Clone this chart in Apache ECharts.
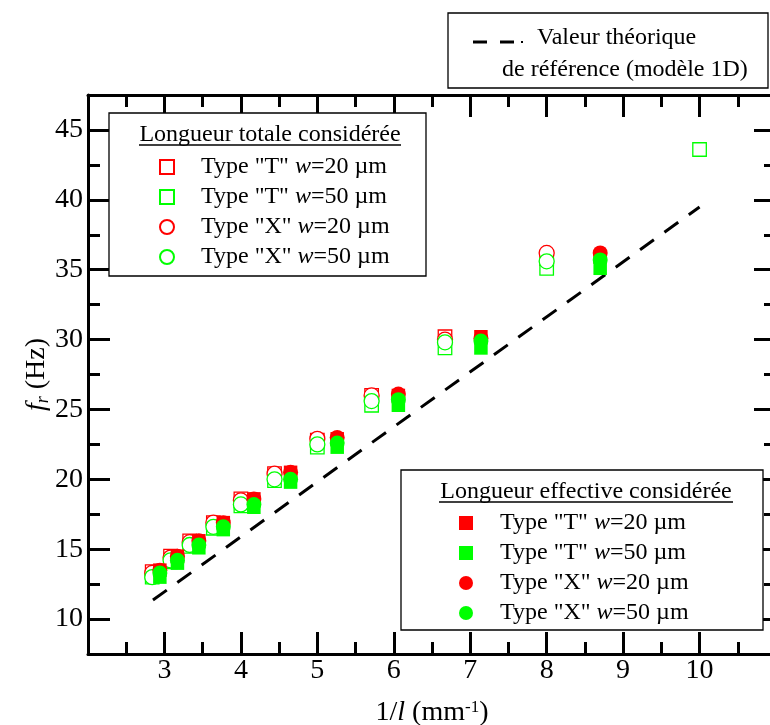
<!DOCTYPE html>
<html><head><meta charset="utf-8">
<script src="https://cdn.jsdelivr.net/npm/echarts@6/dist/echarts.min.js"></script>
<style>html,body{margin:0;padding:0;background:#fff}#c{width:770px;height:725px}</style>
</head><body><div id="c"></div>
<script>
// ---- data ----
const legendLabels = ['Type "T" w=20 µm', 'Type "T" w=50 µm', 'Type "X" w=20 µm', 'Type "X" w=50 µm'];
const totalTitle = 'Longueur totale considérée';
const effTitle = 'Longueur effective considérée';
const refLabel1 = 'Valeur théorique';
const refLabel2 = 'de référence (modèle 1D)';

// 1/l for total length (hollow markers)
const xTotal   = [2.84, 3.08, 3.33, 3.64, 4.00, 4.44, 5.00, 5.71, 6.67, 8.00];
const xTotal50 = [2.84, 3.08, 3.33, 3.64, 4.00, 4.44, 5.00, 5.71, 6.67, 8.00, 10.0];
// 1/l for effective length (filled markers)
const xEff     = [2.94, 3.17, 3.45, 3.77, 4.17, 4.65, 5.26, 6.06, 7.14, 8.70];

const totT20 = [13.4, 14.5, 15.6, 16.9, 18.6, 20.4, 22.8, 26.0, 30.2, 35.8];
const totT50 = [13.0, 14.1, 15.2, 16.5, 18.1, 19.9, 22.3, 25.3, 29.4, 35.1, 43.6];
const totX20 = [13.3, 14.4, 15.5, 16.9, 18.5, 20.4, 22.9, 26.0, 30.0, 36.2];
const totX50 = [13.0, 14.2, 15.3, 16.6, 18.2, 20.0, 22.5, 25.6, 29.8, 35.6];

const effT20 = [13.5, 14.5, 15.6, 16.9, 18.6, 20.5, 22.9, 26.0, 30.2, 35.9];
const effT50 = [13.0, 14.0, 15.1, 16.4, 18.0, 19.8, 22.3, 25.3, 29.4, 35.1];
const effX20 = [13.5, 14.5, 15.6, 16.9, 18.6, 20.5, 23.0, 26.1, 30.1, 36.2];
const effX50 = [13.3, 14.2, 15.3, 16.6, 18.2, 20.0, 22.6, 25.7, 29.9, 35.7];

const refX = [2.85, 10.0];
const refY = [11.36, 39.49];

const yMajor = [10, 15, 20, 25, 30, 35, 40, 45];
const yMinor = [12.5, 17.5, 22.5, 27.5, 32.5, 37.5, 42.5];

// ---- helpers ----
const FONT = '"Liberation Serif", "Times New Roman", serif';
const RED = '#ff0000', GREEN = '#00ff00';
const pts = (xs, ys) => ys.map((y, i) => [xs[i], y]);
const rich = {
  i: {fontFamily: FONT, fontSize: 24, fontStyle: 'italic', color: '#000', lineHeight: 24}
};
const labelFmt = name => {
  const idx = +name.split('#')[1];
  return legendLabels[idx].replace('w=', '{i|w}=');
};

const totNames = legendLabels.map((l, i) => 'Totale #' + i);
const effNames = legendLabels.map((l, i) => 'Effective #' + i);

function hollow(name, xs, ys, sym, col, size) {
  return {type: 'scatter', name, data: pts(xs, ys), symbol: sym, symbolSize: size,
    itemStyle: {color: '#fff', borderColor: col, borderWidth: 1.3, opacity: 1}, z: 3};
}
function filled(name, xs, ys, sym, col, size) {
  return {type: 'scatter', name, data: pts(xs, ys), symbol: sym, symbolSize: size,
    itemStyle: {color: col, borderWidth: 0, opacity: 1}, z: 4};
}

const tickStyle = {color: '#000', width: 3};
function xAx(pos, labels) {
  return {
    type: 'value', min: 2, max: 11, interval: 1, position: pos,
    axisLine: {show: true, onZero: false, lineStyle: {color: '#000', width: 3}},
    axisTick: {show: true, inside: true, length: 22, lineStyle: tickStyle},
    minorTick: {show: true, splitNumber: 2, length: 12, lineStyle: tickStyle},
    axisLabel: {show: labels, showMinLabel: false, showMaxLabel: false, margin: 3,
      fontFamily: FONT, fontSize: 28, color: '#000'},
    splitLine: {show: false}
  };
}
function yAx(pos, major, labels) {
  return {
    type: 'value', min: 7.5, max: 47.5, position: pos,
    axisLine: {show: major, onZero: false, lineStyle: {color: '#000', width: 3}},
    axisTick: {show: true, inside: true, length: major ? 22 : 12,
      customValues: major ? yMajor : yMinor, lineStyle: tickStyle},
    axisLabel: labels ? {show: true, customValues: yMajor, margin: 5,
      fontFamily: FONT, fontSize: 28, color: '#000'} : {show: false},
    splitLine: {show: false}
  };
}

const xBottom = xAx('bottom', true);
xBottom.name = '1/{i|l} (mm{sup|-1})';
xBottom.nameLocation = 'middle';
xBottom.nameGap = 45;
xBottom.nameMoveOverlap = false;
xBottom.nameTextStyle = {fontFamily: FONT, fontSize: 28, color: '#000',
  rich: {i: {fontFamily: FONT, fontSize: 28, fontStyle: 'italic', color: '#000'},
         sup: {fontFamily: FONT, fontSize: 17, color: '#000', verticalAlign: 'top', padding: [0, 0, 10, 0]}}};

const yLeft = yAx('left', true, true);
yLeft.name = '{f|f}{sub|r} (Hz)';
yLeft.nameLocation = 'middle';
yLeft.nameGap = 36;
yLeft.nameRotate = 90;
yLeft.nameMoveOverlap = false;
yLeft.nameTextStyle = {fontFamily: FONT, fontSize: 28, color: '#000',
  rich: {f: {fontFamily: FONT, fontSize: 28, fontStyle: 'italic', color: '#000'},
         sub: {fontFamily: FONT, fontSize: 18, fontStyle: 'italic', color: '#000', verticalAlign: 'bottom', padding: [12, 0, 0, 0]}}};

const legendCommon = {
  orient: 'vertical', itemWidth: 14, itemHeight: 14, itemGap: 6, padding: 0,
  selectedMode: false, formatter: labelFmt, z: 6,
  textStyle: {fontFamily: FONT, fontSize: 24, color: '#000', lineHeight: 24,
    padding: [0, 0, 0, 22], rich}
};

const chart = echarts.init(document.getElementById('c'), null, {renderer: 'canvas'});
chart.setOption({
  animation: false,
  backgroundColor: '#fff',
  grid: {left: 88, top: 95, right: -6, bottom: 71, containLabel: false, outerBoundsMode: 'none'},
  xAxis: [xBottom, xAx('top', false)],
  yAxis: [yLeft, yAx('left', false, false), yAx('right', true, false), yAx('right', false, false)],
  legend: [
    Object.assign({}, legendCommon, {data: totNames, left: 159, top: 155}),
    Object.assign({}, legendCommon, {data: effNames, left: 459, top: 511})
  ],
  graphic: [
    {type: 'rect', z: 5, shape: {x: 109, y: 113, width: 317, height: 163},
      style: {fill: '#fff', stroke: '#000', lineWidth: 1.3}},
    {type: 'text', z: 6, x: 270, y: 135,
      style: {text: totalTitle, fontFamily: FONT, fontSize: 24, fill: '#000', align: 'center', verticalAlign: 'middle'}},
    {type: 'line', z: 6, shape: {x1: 139, y1: 145, x2: 401, y2: 145}, style: {stroke: '#000', lineWidth: 1.5}},

    {type: 'rect', z: 5, shape: {x: 401, y: 470, width: 362, height: 160},
      style: {fill: '#fff', stroke: '#000', lineWidth: 1.3}},
    {type: 'text', z: 6, x: 586, y: 492,
      style: {text: effTitle, fontFamily: FONT, fontSize: 24, fill: '#000', align: 'center', verticalAlign: 'middle'}},
    {type: 'line', z: 6, shape: {x1: 439, y1: 502, x2: 733, y2: 502}, style: {stroke: '#000', lineWidth: 1.5}},

    {type: 'rect', z: 5, shape: {x: 448, y: 13, width: 320, height: 75},
      style: {fill: '#fff', stroke: '#000', lineWidth: 1.3}},
    {type: 'line', z: 6, shape: {x1: 473, y1: 42, x2: 487, y2: 42}, style: {stroke: '#000', lineWidth: 3}},
    {type: 'line', z: 6, shape: {x1: 500, y1: 42, x2: 514, y2: 42}, style: {stroke: '#000', lineWidth: 3}},
    {type: 'line', z: 6, shape: {x1: 521, y1: 42, x2: 523, y2: 42}, style: {stroke: '#000', lineWidth: 2}},
    {type: 'text', z: 6, x: 537, y: 38,
      style: {text: refLabel1, fontFamily: FONT, fontSize: 24, fill: '#000', align: 'left', verticalAlign: 'middle'}},
    {type: 'text', z: 6, x: 502, y: 70,
      style: {text: refLabel2, fontFamily: FONT, fontSize: 24, fill: '#000', align: 'left', verticalAlign: 'middle'}}
  ],
  series: [
    {type: 'line', name: refLabel1 + ' ' + refLabel2, data: pts(refX, refY), symbol: 'none', silent: true, z: 2,
      lineStyle: {color: '#000', width: 3, type: [17, 13]}},
    hollow(totNames[0], xTotal, totT20, 'rect', RED, 13.5),
    hollow(totNames[1], xTotal50, totT50, 'rect', GREEN, 13.5),
    hollow(totNames[2], xTotal, totX20, 'circle', RED, 15),
    hollow(totNames[3], xTotal, totX50, 'circle', GREEN, 15),
    filled(effNames[0], xEff, effT20, 'rect', RED, 13.5),
    filled(effNames[1], xEff, effT50, 'rect', GREEN, 13.5),
    filled(effNames[2], xEff, effX20, 'circle', RED, 15),
    filled(effNames[3], xEff, effX50, 'circle', GREEN, 15)
  ]
});
</script></body></html>
